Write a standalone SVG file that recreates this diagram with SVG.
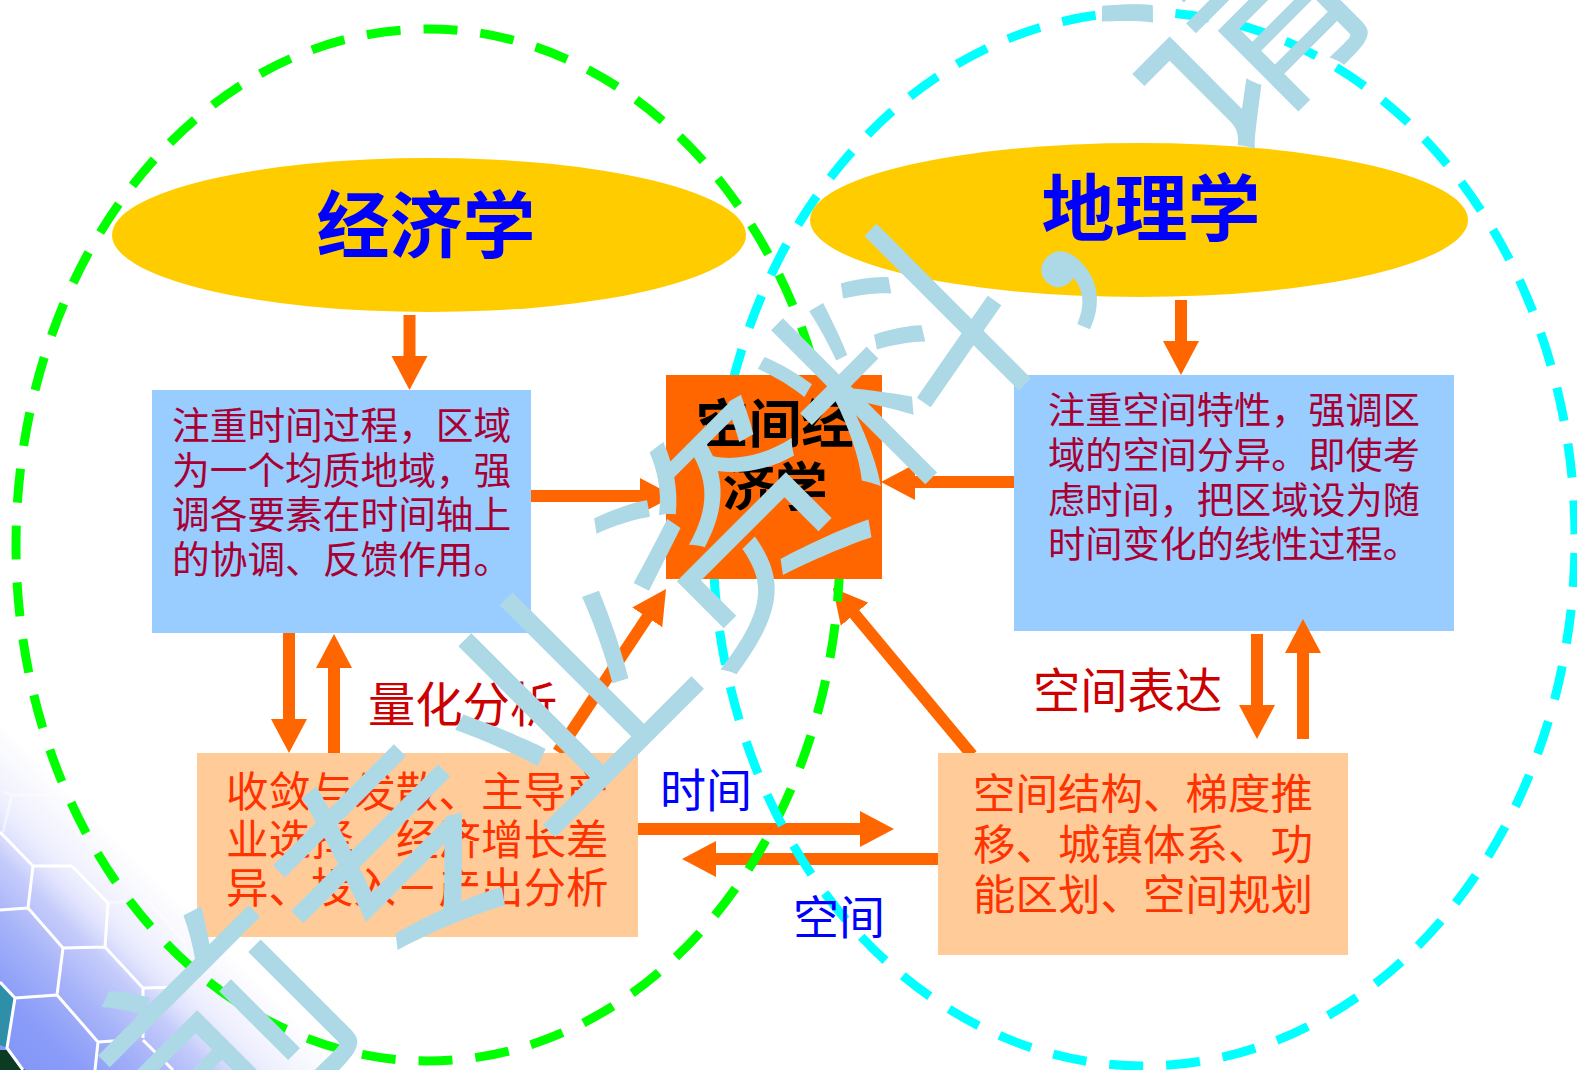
<svg xmlns="http://www.w3.org/2000/svg" width="1577" height="1070" viewBox="0 0 1577 1070">
<style>
text{font-family:"Noto Sans CJK SC","Noto Sans",sans-serif}
.ar{stroke:#ff6600;stroke-width:12;fill:none;marker-end:url(#head)}
.ring{fill:none;stroke-width:9;stroke-dasharray:34 23}
.hex{fill:none;stroke:#fff;stroke-width:3;stroke-linejoin:round}
.b1{font-size:37.7px;fill:#a80033}
.b2{font-size:37.2px;fill:#a80033}
.p{font-size:42.5px;fill:#ff3300}
.t{font-size:73px;font-weight:700;fill:#0000ff;text-anchor:middle}
.c{font-size:52.6px;font-weight:700;fill:#000;text-anchor:middle}
.r{font-size:47.3px;fill:#cc0000}
.bl{font-size:46px;fill:#0000ff}
.wm{font-size:238px;fill:#add8e6}
</style>
<defs>
<marker id="head" markerUnits="userSpaceOnUse" markerWidth="36" markerHeight="38" refX="1" refY="19" orient="auto"><path d="M0,1 L34,19 L0,37z" fill="#ff6600"/></marker>
<linearGradient id="bg" gradientUnits="userSpaceOnUse" x1="0" y1="720" x2="-175" y2="895"><stop offset="0" stop-color="#fff"/><stop offset=".23" stop-color="#eeeffd"/><stop offset=".31" stop-color="#dfe2fd"/><stop offset=".39" stop-color="#c5ccfb"/><stop offset=".57" stop-color="#a5b2f9"/><stop offset=".77" stop-color="#8a9cf8"/><stop offset="1" stop-color="#8095f8"/></linearGradient>
</defs>
<rect width="1577" height="1070" fill="#fff"/>
<g id="background">
<rect x="0" y="700" width="400" height="370" fill="url(#bg)"/>
<path d="M0,982 L15,998 L7,1048 L0,1045z" fill="#2f8fa8"/>
<path d="M0,1050 L7,1050 L25,1070 L0,1070z" fill="#0b3b22"/>
<path class="hex" opacity=".45" d="M12,795 L50,795 M78,837 L85,810 M3,792 L12,795 L3,832 M147,900 L185,943 L187,987 M108,903 L147,900 M187,953 L188,987"/>
<path class="hex" d="M0,832 L33,866 L72,866 M33,866 L28,908 L0,910 M28,908 L63,948 L105,947 L108,903 L72,866 M63,948 L57,995 L15,998 L0,982 M105,947 L143,988 L188,987 M57,995 L98,1042 L128,1040 M143,988 L143,1038 M15,998 L7,1048 L23,1070 M98,1042 L95,1070 M143,1040 L173,1070"/>
</g>
<g id="node-left-blue"><rect x="152" y="390" width="379" height="243" fill="#99ccff"/>
<text class="b1" x="172" y="439">注重时间过程，区域</text><text class="b1" x="172" y="484">为一个均质地域，强</text><text class="b1" x="172" y="528">调各要素在时间轴上</text><text class="b1" x="172" y="573">的协调、反馈作用。</text></g>
<g id="node-right-blue"><rect x="1014" y="375" width="440" height="256" fill="#99ccff"/>
<text class="b2" x="1048" y="424">注重空间特性，强调区</text><text class="b2" x="1048" y="469">域的空间分异。即使考</text><text class="b2" x="1048" y="514">虑时间，把区域设为随</text><text class="b2" x="1048" y="558">时间变化的线性过程。</text></g>
<g id="connectors">
<line class="ar" x1="409.5" y1="315" x2="409.5" y2="357"/>
<line class="ar" x1="1181" y1="300" x2="1181" y2="342"/>
<line class="ar" x1="531" y1="496" x2="641" y2="496"/>
<line class="ar" x1="1014" y1="482" x2="914" y2="482"/>
<line class="ar" x1="289" y1="633" x2="289" y2="720"/>
<line class="ar" x1="334" y1="753" x2="334" y2="667"/>
<line class="ar" x1="558" y1="752" x2="647.8" y2="616.5"/>
<line class="ar" x1="972" y1="755" x2="854" y2="613.4"/>
<line class="ar" x1="1257" y1="634" x2="1257" y2="706"/>
<line class="ar" x1="1303" y1="739" x2="1303" y2="652"/>
<line class="ar" x1="638" y1="829" x2="861" y2="829"/>
<line class="ar" x1="940" y1="859" x2="715" y2="859"/>
</g>
<ellipse id="ring-economics" class="ring" cx="428" cy="545" rx="412" ry="516" stroke="#00ff00" stroke-dashoffset="34.5"/>
<ellipse id="ring-geography" class="ring" cx="1144" cy="539" rx="431" ry="527" stroke="#00ffff" stroke-dashoffset="43"/>
<g id="node-economics"><ellipse cx="429" cy="235" rx="317" ry="77" fill="#ffcc00"/><text class="t" x="426" y="252">经济学</text></g>
<g id="node-geography"><ellipse cx="1139" cy="220" rx="329" ry="77" fill="#ffcc00"/><text class="t" x="1151" y="235">地理学</text></g>
<g id="node-center"><rect x="666" y="375" width="216" height="204" fill="#ff6600"/><text class="c" x="775" y="443">空间经</text><text class="c" x="775" y="506">济学</text></g>
<g id="node-left-peach"><rect x="197" y="753" width="441" height="184" fill="#ffcc99"/>
<text class="p" x="226" y="807">收敛与发散、主导产</text><text class="p" x="226" y="855">业选择、经济增长差</text><text class="p" x="226" y="903">异、投入－产出分析</text></g>
<g id="node-right-peach"><rect x="938" y="753" width="410" height="202" fill="#ffcc99"/>
<text class="p" x="973" y="809">空间结构、梯度推</text><text class="p" x="973" y="860">移、城镇体系、功</text><text class="p" x="973" y="910">能区划、空间规划</text></g>
<g id="labels">
<text class="r" x="368" y="722">量化分析</text>
<text class="r" x="1033" y="708">空间表达</text>
<text class="bl" x="660" y="807">时间</text>
<text class="bl" x="793" y="934">空间</text>
</g>
<g id="watermark"><text class="wm" transform="translate(228,1035) rotate(-45)" x="-119" y="85">前专业资料，请</text></g>
</svg>
